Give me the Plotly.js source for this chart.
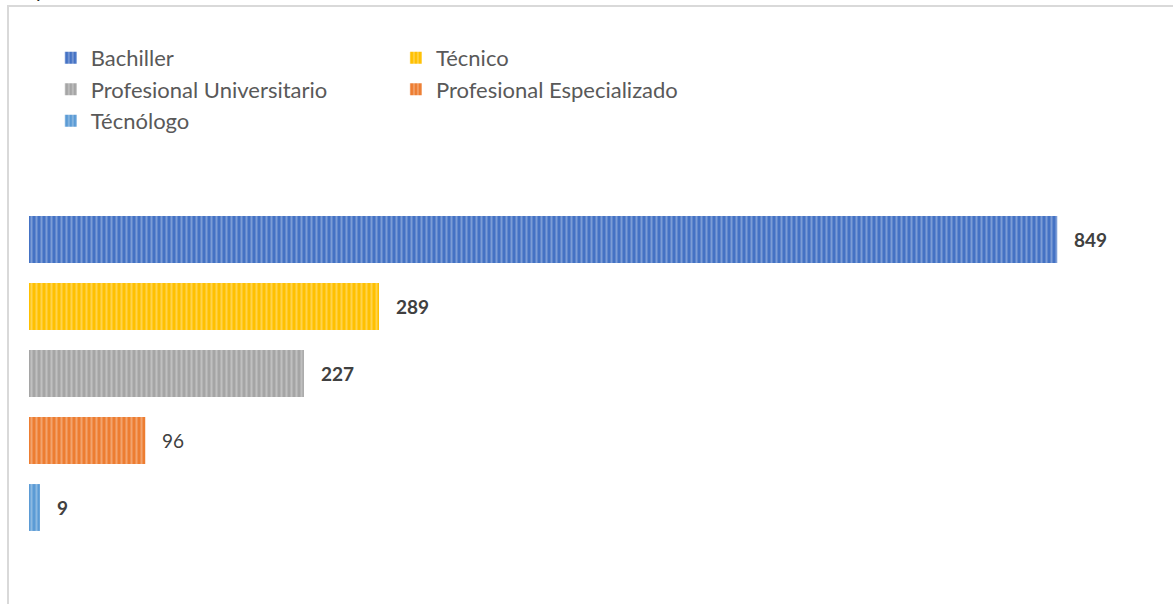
<!DOCTYPE html>
<html>
<head>
<meta charset="utf-8">
<script src="https://cdn.plot.ly/plotly-3.0.1.min.js"></script>
<style>
  html, body { margin: 0; padding: 0; background: #fff; }
  #frame { position: absolute; left: 7px; top: 5px; width: 1200px; height: 700px;
           border-left: 2px solid #d9d9d9; border-top: 2px solid #d9d9d9; pointer-events: none; z-index: 5; }
  #clip { position: absolute; left: 36px; top: 0; width: 20px; height: 5px; overflow: hidden; z-index: 6; }
  #clip span { position: absolute; left: 0; top: -22px; font-family: Lato, sans-serif; font-size: 20px; color: #222; }
  #chart { position: absolute; left: 0; top: 0; }
</style>
</head>
<body>
<div id="clip"><span>p</span></div>
<div id="frame"></div>
<div id="chart"></div>
<script>
const categories = ['Bachiller', 'Técnico', 'Profesional Universitario', 'Profesional Especializado', 'Técnólogo'];
const values = [849, 289, 227, 96, 9];
const boldLabels = [true, true, true, false, true];
const legendColumn = ['legend', 'legend2', 'legend', 'legend2', 'legend'];
const colors = ['#4472C4', '#FFC000', '#A5A5A5', '#ED7D31', '#5B9BD5'];
const lightColors = ['#B4C7E7', '#FFE699', '#DBDBDB', '#F8CBAD', '#BDD7EE'];

const traces = categories.map((c, i) => ({
  type: 'bar',
  orientation: 'h',
  name: c,
  y: [i],
  x: [values[i]],
  width: 0.7,
  legend: legendColumn[i],
  legendgroup: 'g' + i,
  marker: {
    color: colors[i],
    line: { width: 0 },
    pattern: { shape: '|', fgcolor: lightColors[i], bgcolor: colors[i], size: 5, solidity: 0.4, fillmode: 'overlay' }
  },
  hoverinfo: 'skip'
}));

const annotations = categories.map((c, i) => ({
  x: values[i], y: i, xref: 'x', yref: 'y',
  text: boldLabels[i] ? '<b>' + values[i] + '</b>' : String(values[i]),
  showarrow: false, xanchor: 'left', xshift: 15,
  font: { family: 'Lato, sans-serif', size: 19, color: '#404040' }
}));

const legendBase = {
  orientation: 'v', xanchor: 'left', y: 1.505, yanchor: 'top',
  font: { family: 'Lato, sans-serif', size: 22, color: '#595959' },
  traceorder: 'normal', bgcolor: 'rgba(0,0,0,0)', tracegroupgap: 5
};

const layout = {
  width: 1173, height: 604,
  margin: { l: 29, r: 54.3, t: 206, b: 62.5 },
  paper_bgcolor: 'rgba(0,0,0,0)', plot_bgcolor: 'rgba(0,0,0,0)',
  barmode: 'overlay',
  showlegend: true,
  legend: Object.assign({}, legendBase, { x: 0.02 }),
  legend2: Object.assign({}, legendBase, { x: 0.3366 }),
  xaxis: { range: [0, 900], showgrid: false, zeroline: false, showline: false, showticklabels: false, ticks: '' },
  yaxis: { range: [4.5, -0.5], showgrid: false, zeroline: false, showline: false, showticklabels: false, ticks: '' },
  annotations: annotations
};

Plotly.newPlot('chart', traces, layout, { displayModeBar: false, staticPlot: true });
</script>
</body>
</html>
